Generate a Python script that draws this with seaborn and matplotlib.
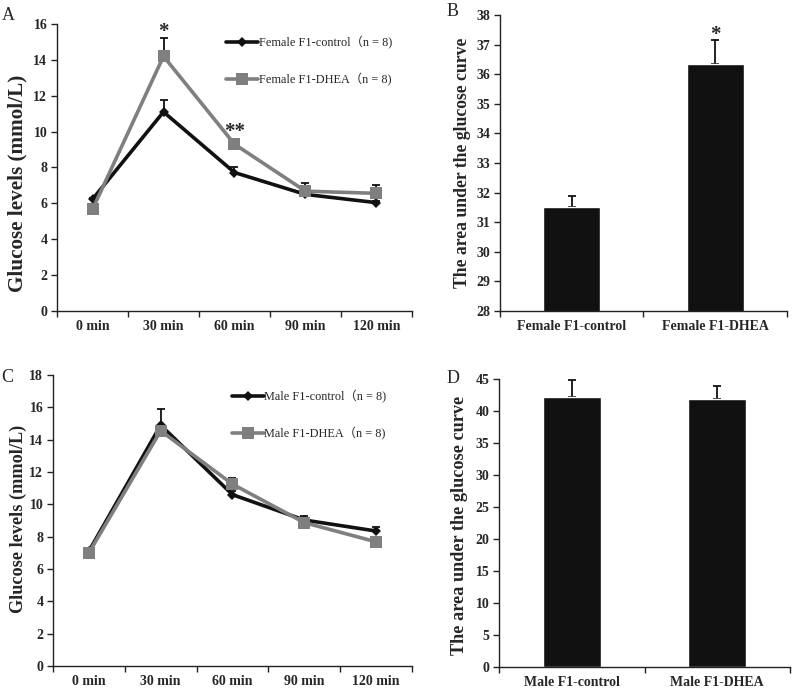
import numpy as np
import pandas as pd
import matplotlib
matplotlib.use("Agg")
import matplotlib.pyplot as plt
import seaborn as sns

# Data
time_labels = ["0 min", "30 min", "60 min", "90 min", "120 min"]

female_control = [6.23, 11.1, 7.72, 6.5, 6.04]
female_control_err = [0.08, 0.68, 0.28, 0.1, 0.08]
female_dhea = [5.67, 14.2, 9.3, 6.68, 6.56]
female_dhea_err = [0.08, 1.0, 0.2, 0.45, 0.48]

male_control = [7.1, 14.9, 10.6, 9.03, 8.35]
male_control_err = [0.1, 1.02, 0.2, 0.27, 0.25]
male_dhea = [7.0, 14.55, 11.25, 8.87, 7.68]
male_dhea_err = [0.1, 0.2, 0.35, 0.15, 0.1]

female_groups = ["Female F1-control", "Female F1-DHEA"]
female_auc = [31.53, 36.34]
female_auc_err = [0.37, 0.83]

male_groups = ["Male F1-control", "Male F1-DHEA"]
male_auc = [42.2, 41.9]
male_auc_err = [2.7, 2.0]

sns.set_style("white")
plt.rcParams['font.family'] = ['Liberation Serif', 'Noto Sans CJK SC']

BLACK = '#111111'
GRAY = '#7f7f7f'

fig = plt.figure(figsize=(7.93, 6.89), dpi=100)
axA = fig.add_axes([0.0719, 0.5486, 0.4476, 0.4166])
axB = fig.add_axes([0.6305, 0.5486, 0.3619, 0.4296])
axC = fig.add_axes([0.0668, 0.0334, 0.4527, 0.4223])
axD = fig.add_axes([0.6293, 0.0319, 0.3669, 0.4180])


def style_axis(ax, yticks):
    for s in ['top', 'right']:
        ax.spines[s].set_visible(False)
    for s in ['left', 'bottom']:
        ax.spines[s].set_color('#222222')
        ax.spines[s].set_linewidth(1.0)
    ax.set_yticks(yticks)
    ax.set_yticklabels([str(int(t)) for t in yticks], fontweight='bold',
                       fontsize=10)
    ax.tick_params(axis='y', which='major', direction='out', length=4, width=1,
                   pad=3, left=True, color='#222222')


def set_ylabel_fit(ax, text, length_px, xy):
    # y label sized so that its length matches the reference
    lab = ax.set_ylabel(text, fontweight='bold', fontsize=10, va='center')
    r = fig.canvas.get_renderer()
    h = lab.get_window_extent(r).height
    lab.set_fontsize(10 * length_px / h)
    ax.yaxis.set_label_coords(*xy)


def line_panel(ax, ctrl, ctrl_err, dhea, dhea_err, ylim, yticks, labels,
               leg_anchor):
    x = np.arange(len(time_labels))
    df = pd.DataFrame({
        'x': np.concatenate([x, x]),
        'y': ctrl + dhea,
        'group': [labels[0]] * len(x) + [labels[1]] * len(x),
    })
    ax.errorbar(x, ctrl, yerr=[np.zeros(len(x)), ctrl_err], fmt='none',
                ecolor=BLACK, elinewidth=1.3, capsize=3, capthick=1.3, zorder=2)
    ax.errorbar(x, dhea, yerr=[np.zeros(len(x)), dhea_err], fmt='none',
                ecolor=BLACK, elinewidth=1.3, capsize=3, capthick=1.3, zorder=2)
    sns.lineplot(data=df, x='x', y='y', hue='group', style='group',
                 palette=[BLACK, GRAY], markers=['D', 's'], dashes=False,
                 linewidth=2.6, ax=ax, zorder=3, markeredgewidth=0)
    for ln in ax.get_lines():
        if ln.get_marker() == 's':
            ln.set_markersize(9)
        elif ln.get_marker() == 'D':
            ln.set_markersize(5.5)
    ax.set_xlim(-0.5, len(x) - 0.5)
    ax.set_ylim(*ylim)
    ax.set_xticks(x)
    ax.set_xticklabels(time_labels, fontweight='bold', fontsize=10)
    ax.set_xticks(np.arange(-0.5, len(x)), minor=True)
    ax.tick_params(axis='x', which='major', length=0, pad=6.5)
    ax.tick_params(axis='x', which='minor', direction='out', length=4, width=1,
                   bottom=True, color='#222222')
    ax.set_xlabel('')
    style_axis(ax, yticks)
    leg_labels = [l + '（n = 8)' for l in labels]
    handles, _ = ax.get_legend_handles_labels()
    for h in handles:
        if h.get_marker() == 's':
            h.set_markersize(9)
        elif h.get_marker() == 'D':
            h.set_markersize(5.5)
    ax.legend(handles, leg_labels, loc='upper right', frameon=False,
              fontsize=8.8, handlelength=2.6, labelspacing=1.95,
              handletextpad=0.05, bbox_to_anchor=leg_anchor)


def bar_panel(ax, groups, vals, errs, ylim, yticks):
    df = pd.DataFrame({'group': groups, 'val': vals})
    sns.barplot(data=df, x='group', y='val', color=BLACK, width=0.4, ax=ax,
                saturation=1, zorder=2)
    ax.errorbar(np.arange(len(groups)), vals,
                yerr=[np.zeros(len(groups)), errs], fmt='none', ecolor=BLACK,
                elinewidth=1.3, capsize=3, capthick=1.3, zorder=1)
    ax.set_xlim(-0.5, len(groups) - 0.5)
    ax.set_ylim(*ylim)
    ax.set_xticks(np.arange(len(groups)))
    ax.set_xticklabels(groups, fontweight='bold', fontsize=10)
    ax.set_xticks(np.arange(-0.5, len(groups)), minor=True)
    ax.tick_params(axis='x', which='major', length=0, pad=6.5)
    ax.tick_params(axis='x', which='minor', direction='out', length=4, width=1,
                   bottom=True, color='#222222')
    ax.set_xlabel('')
    style_axis(ax, yticks)


line_panel(axA, female_control, female_control_err, female_dhea,
           female_dhea_err, (0, 16), np.arange(0, 17, 2), female_groups,
           (0.975, 0.996))
axA.text(1, 15.0, '*', ha='center', va='bottom', fontsize=15, fontweight='bold')
axA.text(2, 9.4, '**', ha='center', va='bottom', fontsize=15, fontweight='bold')
set_ylabel_fit(axA, 'Glucose levels (mmol/L)', 218, (-0.11, 0.443))

bar_panel(axB, female_groups, female_auc, female_auc_err, (28, 38),
          np.arange(28, 39, 1))
axB.text(1, 36.98, '*', ha='center', va='bottom', fontsize=15, fontweight='bold')
set_ylabel_fit(axB, 'The area under the glucose curve', 251, (-0.132, 0.502))

line_panel(axC, male_control, male_control_err, male_dhea, male_dhea_err,
           (0, 18), np.arange(0, 19, 2),
           ["Male F1-control", "Male F1-DHEA"], (0.96, 0.985))
set_ylabel_fit(axC, 'Glucose levels (mmol/L)', 188, (-0.0975, 0.505))

bar_panel(axD, male_groups, male_auc, male_auc_err, (0, 45),
          np.arange(0, 46, 5))
set_ylabel_fit(axD, 'The area under the glucose curve', 260, (-0.137, 0.493))

# panel letters
fig.text(0.002, 0.978, 'A', fontsize=13, va='center', ha='left')
fig.text(0.563, 0.983, 'B', fontsize=13, va='center', ha='left')
fig.text(0.002, 0.452, 'C', fontsize=13, va='center', ha='left')
fig.text(0.563, 0.451, 'D', fontsize=13, va='center', ha='left')

fig.savefig('out.png', dpi=100)
